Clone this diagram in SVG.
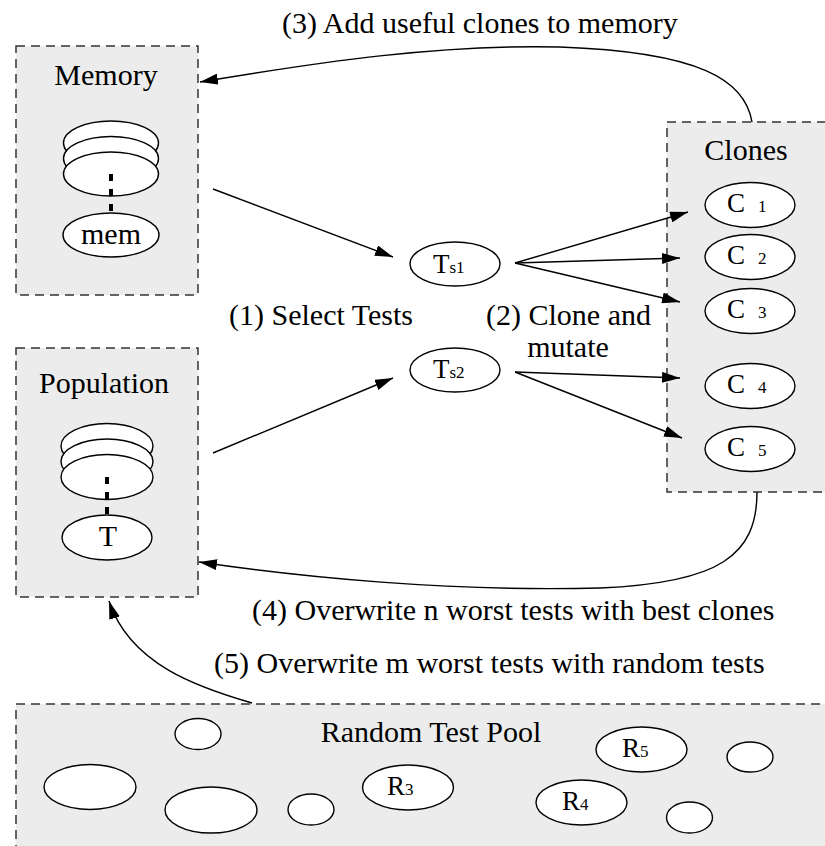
<svg xmlns="http://www.w3.org/2000/svg" width="825" height="846" viewBox="0 0 825 846">
  <defs>
    <style>
      .box { fill: #ececec; stroke: #333; stroke-width: 1.5; stroke-dasharray: 9 6; }
      .ell { fill: #fff; stroke: #000; stroke-width: 1.4; }
      .dots { stroke: #000; stroke-width: 4; stroke-dasharray: 7 8; }
      .edge { fill: none; stroke: #000; stroke-width: 1.4; marker-end: url(#head); }
      text { font-family: "Liberation Serif", "Times New Roman", serif; fill: #000; }
      .lbl { font-size: 30px; }
      .ctr { text-anchor: middle; }
      .big { font-size: 27px; }
      .sub { font-size: 17px; }
    </style>
    <marker id="head" markerUnits="userSpaceOnUse" markerWidth="18" markerHeight="11" refX="18" refY="5.5" orient="auto">
      <path d="M0,0 L18,5.5 L0,11 z" fill="#000"/>
    </marker>
  </defs>

  <!-- Memory -->
  <g id="memory">
    <rect class="box" x="16" y="46" width="182" height="249"/>
    <text class="lbl ctr" x="106" y="85">Memory</text>
    <ellipse class="ell" cx="111" cy="143" rx="47.5" ry="22"/>
    <ellipse class="ell" cx="111" cy="158.5" rx="47.5" ry="22"/>
    <ellipse class="ell" cx="111" cy="174" rx="47.5" ry="22"/>
    <line class="dots" x1="111" y1="174" x2="111" y2="213"/>
    <ellipse class="ell" cx="111" cy="235" rx="48" ry="22"/>
    <text class="lbl ctr" x="111" y="244">mem</text>
  </g>

  <!-- Population -->
  <g id="population">
    <rect class="box" x="16" y="348" width="182" height="249"/>
    <text class="lbl ctr" x="104" y="393">Population</text>
    <ellipse class="ell" cx="107" cy="446" rx="46" ry="22.5"/>
    <ellipse class="ell" cx="107" cy="461.5" rx="46" ry="22.5"/>
    <ellipse class="ell" cx="107" cy="477" rx="46" ry="22.5"/>
    <line class="dots" x1="107" y1="477" x2="107" y2="515"/>
    <ellipse class="ell" cx="107" cy="537.5" rx="45" ry="22.5"/>
    <text class="lbl ctr" x="108" y="546">T</text>
  </g>

  <!-- Selected tests -->
  <g id="ts1">
    <ellipse class="ell" cx="455" cy="264" rx="45" ry="22"/>
    <text class="big" x="433" y="273">T<tspan class="sub">s1</tspan></text>
  </g>
  <g id="ts2">
    <ellipse class="ell" cx="455" cy="370" rx="45" ry="22"/>
    <text class="big" x="433" y="378">T<tspan class="sub">s2</tspan></text>
  </g>

  <!-- Clones -->
  <g id="clones">
    <rect class="box" x="667" y="122" width="170" height="370"/>
    <text class="lbl ctr" x="746" y="160">Clones</text>
  </g>
  <g id="c1">
    <ellipse class="ell" cx="750" cy="205" rx="45" ry="22.5"/>
    <text class="big" x="727" y="212">C<tspan class="sub" x="758">1</tspan></text>
  </g>
  <g id="c2">
    <ellipse class="ell" cx="750" cy="257" rx="45" ry="22.5"/>
    <text class="big" x="727" y="264">C<tspan class="sub" x="758">2</tspan></text>
  </g>
  <g id="c3">
    <ellipse class="ell" cx="750" cy="311" rx="45" ry="22.5"/>
    <text class="big" x="727" y="318">C<tspan class="sub" x="758">3</tspan></text>
  </g>
  <g id="c4">
    <ellipse class="ell" cx="750" cy="386" rx="45" ry="22.5"/>
    <text class="big" x="727" y="393">C<tspan class="sub" x="758">4</tspan></text>
  </g>
  <g id="c5">
    <ellipse class="ell" cx="750" cy="449" rx="45" ry="22.5"/>
    <text class="big" x="727" y="456">C<tspan class="sub" x="758">5</tspan></text>
  </g>

  <!-- Random test pool -->
  <g id="pool">
    <rect class="box" x="16" y="704" width="830" height="160"/>
    <text class="lbl ctr" x="431" y="742">Random Test Pool</text>
    <ellipse class="ell" cx="198" cy="734" rx="23" ry="15.5"/>
    <ellipse class="ell" cx="90" cy="787" rx="46" ry="22.5"/>
    <ellipse class="ell" cx="211" cy="810" rx="46" ry="23"/>
    <ellipse class="ell" cx="311" cy="809.5" rx="23" ry="15.5"/>
    <ellipse class="ell" cx="750" cy="757" rx="23" ry="15"/>
    <ellipse class="ell" cx="689.5" cy="817.5" rx="23" ry="15.5"/>
  </g>
  <g id="r3">
    <ellipse class="ell" cx="408" cy="787.5" rx="45.5" ry="22.5"/>
    <text class="big" x="387" y="795">R<tspan class="sub">3</tspan></text>
  </g>
  <g id="r4">
    <ellipse class="ell" cx="581.5" cy="802.5" rx="45.5" ry="22.5"/>
    <text class="big" x="562" y="810">R<tspan class="sub">4</tspan></text>
  </g>
  <g id="r5">
    <ellipse class="ell" cx="641.5" cy="749.5" rx="45.5" ry="22.5"/>
    <text class="big" x="622" y="757">R<tspan class="sub">5</tspan></text>
  </g>

  <!-- Connectors -->
  <g id="edges">
    <line class="edge" x1="213" y1="189" x2="393" y2="257"/>
    <line class="edge" x1="213" y1="453" x2="393" y2="378"/>
    <line class="edge" x1="515" y1="263" x2="688" y2="212"/>
    <line class="edge" x1="515" y1="263" x2="680" y2="258"/>
    <line class="edge" x1="515" y1="263" x2="680" y2="302"/>
    <line class="edge" x1="515" y1="372" x2="680" y2="378"/>
    <line class="edge" x1="515" y1="372" x2="682" y2="438"/>
    <path class="edge" d="M752,122 C745,80 700,52 560,47 C440,44 320,62 200,82"/>
    <path class="edge" d="M757,492 C757,555 720,583 600,588 C450,592 300,577 199,562"/>
    <path class="edge" d="M252,703 C200,688 130,665 109,601"/>
  </g>

  <!-- Step labels -->
  <g id="labels">
    <text class="lbl" x="282" y="33">(3) Add useful clones to memory</text>
    <text class="lbl" x="229" y="325">(1) Select Tests</text>
    <text class="lbl" x="486" y="325">(2) Clone and</text>
    <text class="lbl ctr" x="568" y="357">mutate</text>
    <text class="lbl" x="252" y="620">(4) Overwrite n worst tests with best clones</text>
    <text class="lbl" x="214" y="673">(5) Overwrite m worst tests with random tests</text>
  </g>
</svg>
